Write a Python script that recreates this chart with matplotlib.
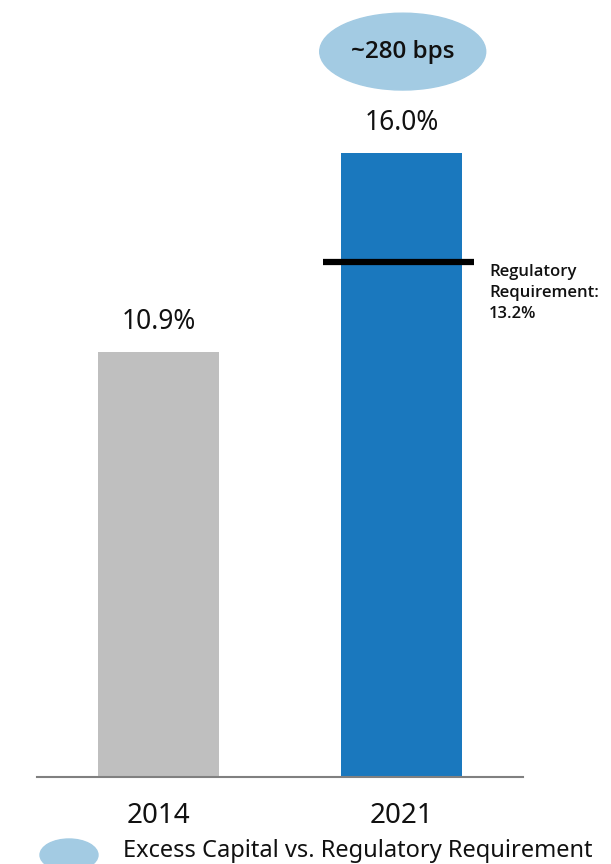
import matplotlib.pyplot as plt
from matplotlib.patches import Ellipse

years = ["2014", "2021"]
ratios = [10.9, 16.0]
bar_colors = ["#bfbfbf", "#1a78be"]
reg_requirement = 13.2
excess_label = "~280 bps"
legend_label = "Excess Capital vs. Regulatory Requirement"

plt.rcParams["font.family"] = ["Noto Sans", "DejaVu Sans"]
bold_font = ["Open Sans", "DejaVu Sans"]

W, H = 611, 864
fig = plt.figure(figsize=(W / 100, H / 100), dpi=100)
ax = fig.add_axes([37 / W, 87 / H, (523 - 37) / W, 1 - 87 / H])

x = list(range(len(years)))
ax.bar(x, ratios, width=0.5, color=bar_colors)
ax.set_xlim(-0.5, 1.5)
ax.set_ylim(0, 777 / 39)

for xi, v in zip(x, ratios):
    ax.text(xi, v + 0.4, f"{v:.1f}%", ha="center", va="bottom",
            fontsize=19, color="#111111")

# regulatory requirement marker on the 2021 bar
ax.hlines(reg_requirement, 0.677, 1.298, color="black", lw=4.5)
ax.text(1.36, reg_requirement - 0.05, "Regulatory\nRequirement:\n"
        f"{reg_requirement:.1f}%", ha="left", va="top", fontsize=12,
        family=bold_font, fontweight="semibold", linespacing=1.42,
        color="#111111")

# excess capital bubble above the 2021 bar
ey = ratios[1] + 2.6
ax.add_patch(Ellipse((1.005, ey), 0.683, 1.97, color="#a3cbe3",
                     clip_on=False, zorder=3))
ax.text(1.005, ey, excess_label, ha="center", va="center", fontsize=17.5,
        family=bold_font, fontweight="semibold", color="#111111", zorder=4)

ax.set_xticks(x)
ax.set_xticklabels(years, fontsize=20, color="#111111")
ax.tick_params(axis="x", length=0, pad=18)
ax.set_yticks([])
for side in ["top", "right", "left"]:
    ax.spines[side].set_visible(False)
ax.spines["bottom"].set_color("#808080")
ax.spines["bottom"].set_linewidth(1.5)

# legend swatch and caption along the bottom edge
fig.patches.append(Ellipse((69 / W, 9 / H), 58 / W, 32 / H,
                           transform=fig.transFigure, color="#a3cbe3"))
fig.text(123 / W, 7 / H, legend_label, ha="left", va="baseline",
         fontsize=17, color="#111111")

fig.savefig("out.png", dpi=100)
